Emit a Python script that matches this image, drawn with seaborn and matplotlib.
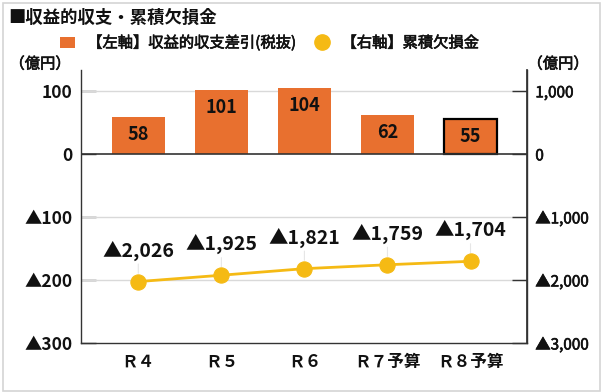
import numpy as np
import pandas as pd
import matplotlib
matplotlib.use("Agg")
import matplotlib.pyplot as plt
import matplotlib.patheffects as pe
import seaborn as sns
from matplotlib.patches import Patch, Rectangle
from matplotlib.lines import Line2D

categories = ["Ｒ４", "Ｒ５", "Ｒ６", "Ｒ７予算", "Ｒ８予算"]
balance = [58, 101, 104, 62, 55]           # 収益的収支差引(税抜)
deficit = [-2026, -1925, -1821, -1759, -1704]  # 累積欠損金
left_ticks = [100, 0, -100, -200, -300]
left_labels = ["100", "0", "▲100", "▲200", "▲300"]
right_ticks = [1000, 0, -1000, -2000, -3000]
right_labels = ["1,000", "0", "▲1,000", "▲2,000", "▲3,000"]

sns.set_theme(style="white")
plt.rcParams["font.family"] = ["Noto Sans CJK JP", "DejaVu Sans"]

BAR = "#E8702F"
GOLD = "#F5BA14"
DARK = "#333333"
TXT = "#111111"
MED = [pe.withStroke(linewidth=0.45, foreground=TXT)]

fig = plt.figure(figsize=(6.05, 3.92), dpi=100)
ax = fig.add_axes([81/605, 1-343/392, (527-81)/605, (343-70)/392])

df = pd.DataFrame({"cat": categories, "balance": balance, "deficit": deficit})
sns.barplot(data=df, x="cat", y="balance", color=BAR, saturation=1, width=0.64, ax=ax, zorder=3)
for i, p in enumerate(ax.patches):
    p.set_edgecolor("none")
    if i == len(ax.patches) - 1:
        p.set_edgecolor("black")
        p.set_linewidth(1.6)
    ax.annotate(f"{balance[i]}", xy=(p.get_x() + p.get_width()/2, p.get_height()),
                xytext=(0, -12.5), textcoords="offset points",
                ha="center", va="center", fontsize=13, fontweight="bold", color=TXT, zorder=5)

ax.set_ylim(-300, 133)
ax.set_xlim(-0.69, 4.68)
ax.set_yticks(left_ticks)
ax.set_yticklabels(left_labels, fontsize=12.5, fontweight="bold", color=TXT)
ax.set_xticks(range(len(categories)))
ax.set_xticklabels(categories, fontsize=12, fontweight="bold", color=TXT)
ax.set_xlabel("")
ax.set_ylabel("")
for y in [100, -100, -200]:
    ax.axhline(y, color="#d9d9d9", lw=1, zorder=1)
ax.axhline(0, color=DARK, lw=1.2, zorder=4)
ax.spines["top"].set_visible(False)
for s in ["left", "right", "bottom"]:
    ax.spines[s].set_color(DARK)
    ax.spines[s].set_linewidth(1.0)
ax.tick_params(axis="both", direction="in", length=11, width=1, color=DARK, pad=6)
ax.tick_params(axis="x", pad=7)

ax2 = ax.twinx()
ax2.set_position(ax.get_position())
sns.lineplot(x=list(range(len(categories))), y=deficit, color=GOLD, lw=2, marker="o",
             markersize=11, markeredgecolor=GOLD, ax=ax2, zorder=6)
ax2.set_ylim(-3000, 1330)
ax2.set_yticks(right_ticks)
ax2.set_yticklabels(right_labels, fontsize=11, color=TXT)
for t in ax2.get_yticklabels():
    t.set_path_effects(MED)
ax2.tick_params(axis="y", direction="in", length=11, width=1, color=DARK, pad=6)
for s in ["top", "left", "bottom"]:
    ax2.spines[s].set_visible(False)
ax2.spines["right"].set_color(DARK)
for i, v in enumerate(deficit):
    ax2.annotate(f"▲{abs(v):,}", xy=(i, v), xytext=(0, 15), textcoords="offset points",
                 ha="center", va="bottom", fontsize=14, fontweight="bold", color=TXT,
                 arrowprops=dict(arrowstyle="-", color="#e6e6e6", lw=0.8, shrinkA=0, shrinkB=6))

fig.text(8/605, 1-18/392, "■収益的収支・累積欠損金", fontsize=12.5, fontweight="bold",
         ha="left", va="center", color=TXT)
handles = [Patch(facecolor=BAR, edgecolor="none"),
           Line2D([], [], marker="o", color="none", markerfacecolor=GOLD, markeredgecolor=GOLD, markersize=11)]
leg = fig.legend(handles, ["【左軸】収益的収支差引(税抜)", "【右軸】累積欠損金"], loc="center",
                 bbox_to_anchor=(0.445, 1-43/392), ncol=2, frameon=False,
                 prop={"size": 11}, handlelength=1.0, handletextpad=0.8, columnspacing=1.2)
for t in leg.get_texts():
    t.set_color(TXT)
    t.set_path_effects(MED)
for xp in (40, 558):
    fig.text(xp/605, 1-64/392, "（億円）", fontsize=11, ha="center", va="center",
             color=TXT, path_effects=MED)

fig.patches.append(Rectangle((3/605, 1-391/392), 597/605, 388/392, transform=fig.transFigure,
                             fill=False, edgecolor="#d4d4d4", lw=1.2))
fig.savefig("out.png", dpi=100, facecolor="white")
